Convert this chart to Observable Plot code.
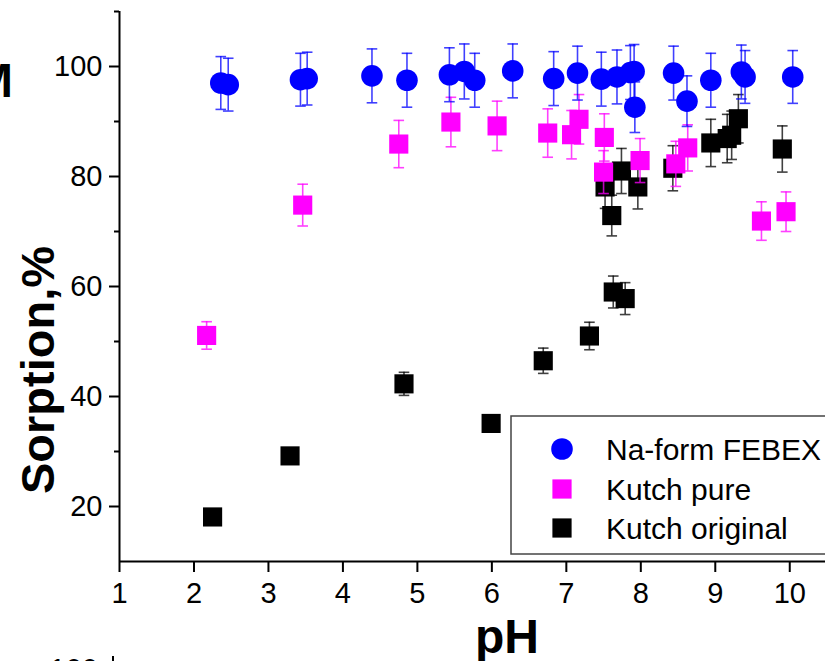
<!DOCTYPE html>
<html>
<head>
<meta charset="utf-8">
<script src="https://cdn.jsdelivr.net/npm/d3@7"></script>
<script src="https://cdn.jsdelivr.net/npm/@observablehq/plot@0.6"></script>
<style>
  html, body { margin: 0; padding: 0; background: #fff; }
  #chart { width: 825px; height: 661px; overflow: hidden; position: relative; }
  #chart svg { display: block; }
</style>
</head>
<body>
<div id="chart"></div>
<script>
// Series names, colours and marker shapes
const seriesNames = ["Na-form FEBEX", "Kutch pure", "Kutch original"];
const seriesColors = ["#0000ff", "#ff00ff", "#000000"];
const seriesSymbols = ["circle", "square", "square"];

// Na-form FEBEX
const febexPH = [2.36, 2.46, 3.43, 3.52, 4.39, 4.86, 5.43, 5.63, 5.77, 6.28, 6.83, 7.15, 7.47, 7.68, 7.86, 7.91, 7.92, 8.44, 8.62, 8.94, 9.35, 9.40, 10.04];
const febexSorption = [97.0, 96.7, 97.6, 97.8, 98.3, 97.5, 98.5, 99.1, 97.5, 99.2, 97.8, 98.8, 97.7, 98.1, 98.9, 99.1, 92.6, 98.8, 93.7, 97.5, 99.0, 98.1, 98.1];
const febexErr = [4.8, 4.8, 4.8, 4.8, 4.9, 4.9, 4.9, 5.0, 4.9, 4.9, 4.9, 4.9, 4.9, 4.9, 4.9, 4.9, 4.6, 4.9, 4.6, 4.9, 4.9, 4.8, 4.8];

// Kutch pure
const purePH = [2.17, 3.46, 4.75, 5.45, 6.07, 6.75, 7.07, 7.17, 7.50, 7.51, 7.99, 8.47, 8.63, 9.62, 9.95];
const pureSorption = [51.1, 74.8, 85.9, 89.9, 89.2, 87.9, 87.6, 90.4, 80.8, 87.1, 82.9, 82.3, 85.2, 71.9, 73.6];
const pureErr = [2.5, 3.8, 4.3, 4.5, 4.5, 4.4, 4.4, 4.5, 3.9, 4.3, 4.0, 4.1, 4.2, 3.5, 3.6];

// Kutch original
const originalPH = [2.25, 3.29, 4.82, 5.99, 6.69, 7.31, 7.52, 7.61, 7.63, 7.74, 7.79, 7.96, 8.43, 8.94, 9.16, 9.22, 9.31, 9.90];
const originalSorption = [18.1, 29.2, 42.3, 35.1, 46.5, 51.0, 78.1, 72.9, 59.0, 81.0, 57.8, 78.1, 81.5, 86.1, 86.9, 87.5, 90.5, 85.0];
const originalErr = [1.0, 1.0, 2.1, 1.0, 2.3, 2.5, 3.9, 3.7, 2.9, 4.1, 2.9, 4.0, 4.1, 4.3, 4.4, 4.4, 4.4, 4.2];

// Axis ticks
const xTicks = [1, 2, 3, 4, 5, 6, 7, 8, 9, 10];
const yTicks = [20, 40, 60, 80, 100];
const yMinorTicks = [30, 50, 70, 90, 110];

const phValues = [febexPH, purePH, originalPH];
const sorptionValues = [febexSorption, pureSorption, originalSorption];
const errValues = [febexErr, pureErr, originalErr];

const rows = seriesNames.flatMap((name, i) =>
  phValues[i].map((ph, j) => ({
    series: name,
    pH: ph,
    sorption: sorptionValues[i][j],
    err: errValues[i][j]
  }))
);

// Horizontal line used as the error-bar cap
const cap = {
  draw(context, size) {
    const h = Math.sqrt(size / Math.PI);
    context.moveTo(-h, 0);
    context.lineTo(h, 0);
  }
};

const font = "'Liberation Sans', Arial, Helvetica, sans-serif";

// One layer per series: error bars, caps, then markers on top
const layer = name => {
  const d = rows.filter(r => r.series === name);
  const bar = {stroke: "series", strokeWidth: 1.6, strokeOpacity: 0.75};
  return [
    Plot.ruleX(d, {x: "pH", y1: r => r.sorption - r.err, y2: r => r.sorption + r.err, ...bar}),
    Plot.dot(d, {x: "pH", y: r => r.sorption + r.err, symbol: cap, r: 5.3, fill: "none", ...bar}),
    Plot.dot(d, {x: "pH", y: r => r.sorption - r.err, symbol: cap, r: 5.3, fill: "none", ...bar}),
    Plot.dot(d, {x: "pH", y: "sorption", fill: "series", symbol: "series", r: 10.8})
  ];
};

const chart = Plot.plot({
  width: 825,
  height: 661,
  marginLeft: 119,
  marginRight: 0,
  marginTop: 11,
  marginBottom: 100,
  style: {fontFamily: font, fontSize: "29px", color: "black", background: "white", overflow: "hidden"},
  x: {domain: [1, 10.48]},
  y: {domain: [10, 110]},
  color: {domain: seriesNames, range: seriesColors},
  symbol: {domain: seriesNames, range: seriesSymbols},
  marks: [
    Plot.axisX({ticks: xTicks, tickSize: 11, tickPadding: 10, strokeWidth: 2, fontSize: 29, label: null}),
    Plot.axisY({ticks: yTicks, tickSize: 10, tickPadding: 7, strokeWidth: 2, fontSize: 29, label: null}),
    Plot.axisY({ticks: yMinorTicks, tickSize: 5, strokeWidth: 2, tickFormat: () => "", label: null}),
    Plot.ruleX([1], {strokeWidth: 2}),
    Plot.ruleY([10], {strokeWidth: 2}),
    ...layer("Kutch original"),
    ...layer("Kutch pure"),
    ...layer("Na-form FEBEX")
  ]
});

document.getElementById("chart").appendChild(chart);

const svg = d3.select(chart);
const color = chart.scale("color");

// Axis titles
svg.append("text")
  .attr("transform", "translate(54,370) rotate(-90)")
  .attr("text-anchor", "middle")
  .attr("font-family", font)
  .attr("font-weight", "bold")
  .attr("font-size", 47)
  .attr("fill", "black")
  .text("Sorption,%");

svg.append("text")
  .attr("x", 507)
  .attr("y", 653)
  .attr("text-anchor", "middle")
  .attr("font-family", font)
  .attr("font-weight", "bold")
  .attr("font-size", 48)
  .attr("fill", "black")
  .text("pH");

// Edges of the neighbouring panels
svg.append("text")
  .attr("x", 13).attr("y", 97)
  .attr("text-anchor", "end")
  .attr("font-family", font).attr("font-weight", "bold").attr("font-size", 48)
  .text("M");
svg.append("text")
  .attr("x", 98).attr("y", 679)
  .attr("text-anchor", "end")
  .attr("font-family", font).attr("font-size", 29)
  .text("100");
svg.append("line")
  .attr("x1", 113).attr("x2", 113).attr("y1", 656).attr("y2", 661)
  .attr("stroke", "black").attr("stroke-width", 2);

// Legend box
const legend = svg.append("g")
  .attr("font-family", font)
  .attr("font-size", 30)
  .attr("text-anchor", "start");
legend.append("rect")
  .attr("x", 511).attr("y", 416).attr("width", 340).attr("height", 138)
  .attr("fill", "white").attr("stroke", "#444").attr("stroke-width", 1.5);
const rowY = [449, 489, 528];
seriesNames.forEach((name, i) => {
  const c = color.apply(name);
  if (seriesSymbols[i] === "circle") {
    legend.append("circle").attr("cx", 562).attr("cy", rowY[i]).attr("r", 10.8).attr("fill", c);
  } else {
    legend.append("rect").attr("x", 562 - 9.6).attr("y", rowY[i] - 9.6)
      .attr("width", 19.2).attr("height", 19.2).attr("fill", c);
  }
  legend.append("text")
    .attr("x", 606).attr("y", rowY[i] + 11)
    .attr("text-anchor", "start")
    .attr("fill", "black")
    .text(name);
});
</script>
</body>
</html>
